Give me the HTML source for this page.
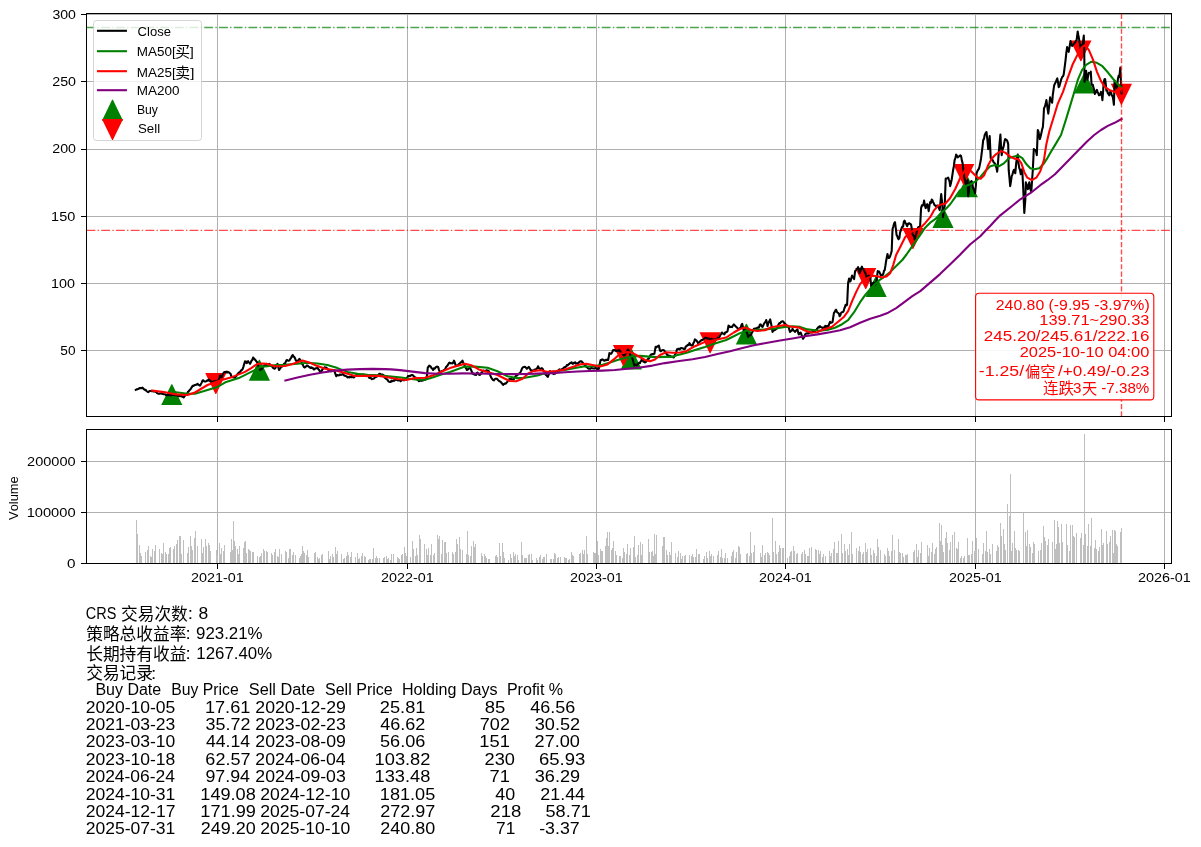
<!DOCTYPE html>
<html><head><meta charset="utf-8"><title>CRS</title>
<style>html,body{margin:0;padding:0;background:#fff}svg{display:block}text{font-family:"Liberation Sans","Noto Sans CJK SC",sans-serif;font-kerning:none;white-space:pre}</style>
</head><body>
<svg width="1201" height="847" viewBox="0 0 1201 847" style="will-change:transform">
<defs>
<clipPath id="cm"><rect x="86.5" y="13.5" width="1085.0" height="403.0"/></clipPath>
</defs>
<rect width="1201" height="847" fill="#fff"/>
<g stroke="#b0b0b0" stroke-width="1" shape-rendering="crispEdges">
<line x1="217.5" y1="13.5" x2="217.5" y2="416.5"/>
<line x1="217.5" y1="429.5" x2="217.5" y2="563.5"/>
<line x1="407.5" y1="13.5" x2="407.5" y2="416.5"/>
<line x1="407.5" y1="429.5" x2="407.5" y2="563.5"/>
<line x1="596.5" y1="13.5" x2="596.5" y2="416.5"/>
<line x1="596.5" y1="429.5" x2="596.5" y2="563.5"/>
<line x1="785.5" y1="13.5" x2="785.5" y2="416.5"/>
<line x1="785.5" y1="429.5" x2="785.5" y2="563.5"/>
<line x1="975.5" y1="13.5" x2="975.5" y2="416.5"/>
<line x1="975.5" y1="429.5" x2="975.5" y2="563.5"/>
<line x1="1164.5" y1="13.5" x2="1164.5" y2="416.5"/>
<line x1="1164.5" y1="429.5" x2="1164.5" y2="563.5"/>
<line x1="86.5" y1="14.5" x2="1171.5" y2="14.5"/>
<line x1="86.5" y1="81.5" x2="1171.5" y2="81.5"/>
<line x1="86.5" y1="149.5" x2="1171.5" y2="149.5"/>
<line x1="86.5" y1="216.5" x2="1171.5" y2="216.5"/>
<line x1="86.5" y1="283.5" x2="1171.5" y2="283.5"/>
<line x1="86.5" y1="350.5" x2="1171.5" y2="350.5"/>
<line x1="86.5" y1="512.5" x2="1171.5" y2="512.5"/>
<line x1="86.5" y1="461.5" x2="1171.5" y2="461.5"/>
</g>
<line x1="86.5" y1="27.5" x2="1171.5" y2="27.5" stroke="#008000" stroke-opacity="0.7" stroke-width="1.38889" stroke-dasharray="8.89,2.22,1.39,2.22"/>
<line x1="86.5" y1="230.4" x2="1171.5" y2="230.4" stroke="#ff0000" stroke-opacity="0.7" stroke-width="1.38889" stroke-dasharray="8.89,2.22,1.39,2.22"/>
<g clip-path="url(#cm)">
<path fill="#008000" d="M171.40,384.15 L172.20,384.15 L182.40,405.10 L161.20,405.10Z M259.00,359.75 L259.80,359.75 L270.00,380.70 L248.80,380.70Z M630.90,348.45 L631.70,348.45 L641.90,369.40 L620.70,369.40Z M746.00,323.65 L746.80,323.65 L757.00,344.60 L735.80,344.60Z M875.70,275.95 L876.50,275.95 L886.70,296.90 L865.50,296.90Z M942.60,207.15 L943.40,207.15 L953.60,228.10 L932.40,228.10Z M966.90,176.35 L967.70,176.35 L977.90,197.30 L956.70,197.30Z M1084.20,72.45 L1085.00,72.45 L1095.20,93.40 L1074.00,93.40Z"/>
<path fill="#ff0000" d="M215.40,394.05 L216.20,394.05 L226.40,373.10 L205.20,373.10Z M623.10,365.95 L623.90,365.95 L634.10,345.00 L612.90,345.00Z M709.70,353.25 L710.50,353.25 L720.70,332.30 L699.50,332.30Z M865.30,288.95 L866.10,288.95 L876.30,268.00 L855.10,268.00Z M912.50,249.05 L913.30,249.05 L923.50,228.10 L902.30,228.10Z M963.30,185.05 L964.10,185.05 L974.30,164.10 L953.10,164.10Z M1080.50,61.35 L1081.30,61.35 L1091.50,40.40 L1070.30,40.40Z M1121.00,104.65 L1121.80,104.65 L1132.00,83.70 L1110.80,83.70Z"/>
<g fill="none" stroke-width="2.08" stroke-linejoin="round" stroke-linecap="square">
<path stroke="#000" d="M135.8,389.8 L136.5,389.4 L137.2,389.4 L138.0,389.0 L138.8,388.8 L139.5,388.1 L140.2,388.0 L141.0,388.3 L141.8,388.0 L142.5,387.5 L143.3,388.6 L144.2,389.4 L145.0,390.0 L145.7,389.8 L146.4,391.0 L147.1,391.5 L147.8,392.0 L148.5,392.1 L149.3,391.0 L150.1,391.0 L150.9,391.0 L151.7,391.2 L152.5,391.0 L153.2,391.4 L154.0,391.2 L154.8,391.6 L155.5,391.9 L156.2,391.9 L157.1,393.1 L157.9,393.5 L158.8,393.8 L159.5,393.7 L160.2,393.5 L161.0,393.5 L161.8,393.6 L162.5,393.8 L163.2,394.2 L164.0,394.2 L164.8,394.3 L165.5,394.6 L166.2,395.2 L167.0,395.0 L167.8,395.2 L168.6,395.3 L169.4,394.6 L170.2,394.9 L170.9,395.5 L171.7,394.4 L172.5,395.0 L173.2,394.9 L174.0,394.8 L174.8,395.2 L175.5,395.2 L176.2,394.8 L177.0,395.5 L177.8,395.7 L178.5,395.9 L179.2,396.2 L180.0,395.6 L180.8,396.2 L181.5,395.9 L182.2,396.8 L183.0,396.9 L183.8,397.5 L184.6,396.1 L185.4,395.3 L186.2,395.0 L187.1,394.1 L187.9,391.9 L188.8,391.2 L189.6,390.0 L190.4,389.6 L191.2,388.1 L192.0,386.9 L192.8,385.7 L193.5,386.0 L194.2,385.2 L195.0,385.0 L195.8,384.8 L196.7,384.7 L197.5,383.8 L198.3,384.5 L199.2,385.2 L200.0,385.6 L200.8,384.4 L201.7,382.6 L202.5,380.6 L203.2,380.2 L204.0,381.2 L204.8,381.5 L205.5,381.5 L206.2,381.2 L207.0,380.5 L207.8,380.8 L208.6,379.6 L209.4,380.0 L210.3,381.1 L211.2,381.5 L212.0,381.9 L212.8,381.7 L213.5,381.3 L214.2,381.3 L215.0,381.4 L215.8,381.1 L216.5,381.4 L217.2,380.7 L218.0,380.5 L218.8,380.6 L219.4,378.2 L220.0,375.6 L220.6,376.3 L221.3,377.2 L221.9,376.9 L222.8,374.2 L223.8,372.5 L224.5,372.1 L225.3,371.9 L226.1,372.4 L226.9,371.6 L227.6,372.5 L228.4,372.1 L229.1,372.4 L229.9,373.4 L230.6,373.8 L231.2,375.9 L231.9,376.9 L232.7,377.2 L233.4,377.3 L234.2,377.6 L235.0,377.5 L235.8,376.6 L236.5,375.8 L237.2,374.6 L238.0,373.8 L238.8,372.5 L239.5,372.8 L240.2,371.7 L241.0,370.6 L241.8,369.9 L242.5,369.4 L243.3,367.1 L244.2,364.0 L245.0,361.2 L245.6,362.7 L246.3,361.6 L246.9,363.1 L247.5,362.0 L248.1,361.2 L248.7,362.2 L249.4,362.8 L250.0,363.8 L250.8,362.4 L251.6,360.5 L252.3,360.1 L253.1,357.5 L253.9,358.4 L254.7,359.3 L255.5,360.2 L256.2,361.2 L257.1,362.1 L257.9,364.8 L258.8,367.5 L259.4,368.3 L260.0,370.0 L260.8,369.6 L261.5,369.0 L262.2,368.6 L263.0,366.6 L263.8,366.2 L264.4,365.4 L265.0,365.0 L265.7,365.5 L266.4,363.8 L267.1,364.9 L267.9,364.1 L268.6,364.7 L269.3,363.9 L270.0,364.4 L270.8,365.7 L271.7,366.2 L272.5,366.9 L273.1,367.9 L273.8,368.3 L274.4,368.8 L275.2,368.2 L275.9,366.9 L276.7,365.1 L277.5,363.8 L278.2,366.8 L279.0,370.0 L279.8,369.0 L280.5,368.0 L281.2,366.9 L282.0,366.5 L282.8,366.0 L283.5,364.5 L284.2,363.5 L285.0,363.8 L285.6,362.1 L286.3,360.6 L286.9,360.0 L287.7,360.5 L288.6,360.8 L289.4,360.6 L290.2,359.1 L291.1,357.8 L291.9,355.9 L292.8,355.0 L293.5,356.8 L294.2,356.9 L295.0,358.1 L295.6,360.0 L296.3,360.8 L296.9,361.9 L297.7,361.2 L298.6,359.9 L299.4,358.8 L300.3,360.1 L301.2,361.2 L302.1,363.9 L302.9,364.8 L303.8,366.9 L304.5,367.4 L305.2,367.3 L306.0,366.4 L306.8,365.6 L307.5,365.6 L308.3,366.4 L309.2,367.0 L310.0,367.5 L310.8,368.0 L311.5,367.3 L312.2,368.1 L313.0,368.0 L313.8,369.4 L314.5,369.2 L315.2,368.4 L316.0,368.2 L316.8,368.2 L317.5,367.5 L318.3,369.2 L319.1,369.9 L319.8,371.3 L320.6,371.9 L321.2,372.0 L321.9,370.3 L322.5,369.4 L323.2,368.4 L324.0,367.9 L324.8,367.2 L325.5,368.0 L326.2,367.5 L327.1,368.4 L327.9,369.4 L328.8,370.6 L329.5,370.2 L330.2,370.4 L330.9,371.1 L331.6,370.5 L332.3,370.5 L333.0,370.6 L333.8,370.0 L334.6,371.6 L335.4,373.8 L336.2,376.2 L337.0,375.3 L337.8,375.1 L338.5,375.4 L339.2,375.2 L340.0,374.4 L340.8,374.9 L341.5,374.8 L342.2,374.3 L343.0,374.1 L343.8,375.0 L344.5,375.7 L345.2,375.8 L346.0,376.1 L346.8,376.5 L347.5,377.5 L348.3,377.2 L349.1,376.9 L349.8,377.4 L350.6,376.5 L351.4,377.3 L352.2,377.2 L353.0,376.6 L353.8,377.5 L354.5,376.9 L355.2,375.5 L356.0,375.3 L356.8,375.4 L357.5,375.0 L358.2,375.2 L359.0,375.4 L359.7,375.4 L360.4,375.3 L361.1,375.7 L361.9,375.5 L362.6,375.4 L363.3,374.3 L364.1,375.1 L364.8,375.6 L365.5,375.1 L366.2,375.0 L367.0,376.2 L367.8,375.5 L368.6,376.4 L369.4,377.9 L370.2,377.3 L370.9,378.1 L371.7,379.2 L372.5,378.8 L373.2,378.7 L374.0,378.5 L374.8,377.4 L375.5,377.2 L376.2,376.9 L377.0,376.6 L377.8,375.8 L378.5,375.0 L379.2,373.9 L380.0,373.8 L380.8,374.4 L381.5,374.6 L382.2,374.6 L383.0,374.8 L383.8,375.6 L384.6,377.5 L385.4,378.2 L386.2,378.8 L387.0,379.3 L387.8,380.2 L388.5,381.4 L389.2,381.7 L390.0,381.9 L390.7,381.9 L391.4,380.7 L392.1,381.3 L392.9,381.0 L393.6,380.3 L394.3,380.7 L395.0,380.0 L395.8,379.8 L396.6,379.8 L397.3,380.2 L398.1,380.4 L398.9,380.2 L399.7,380.0 L400.5,381.2 L401.2,380.6 L402.0,380.1 L402.8,379.5 L403.5,380.3 L404.2,380.2 L405.0,379.4 L405.8,379.4 L406.5,378.0 L407.2,377.6 L408.0,376.0 L408.8,376.2 L409.5,375.8 L410.2,375.9 L411.0,375.2 L411.8,375.1 L412.5,375.0 L413.3,375.8 L414.1,376.6 L414.8,377.1 L415.6,377.5 L416.4,378.7 L417.2,379.5 L418.0,380.0 L418.8,381.2 L419.5,381.0 L420.3,380.8 L421.1,380.8 L421.9,380.6 L422.7,380.5 L423.4,380.3 L424.2,379.6 L425.0,380.0 L425.6,379.2 L426.3,377.8 L426.9,376.2 L427.8,367.5 L428.5,366.7 L429.2,365.7 L430.0,366.2 L430.8,366.7 L431.6,368.3 L432.3,368.6 L433.1,370.0 L433.9,368.3 L434.8,368.7 L435.6,367.5 L436.4,366.7 L437.3,366.6 L438.1,366.9 L438.9,369.6 L439.8,371.9 L440.6,372.2 L441.4,371.7 L442.1,370.9 L442.9,370.7 L443.8,370.0 L444.5,369.8 L445.3,368.8 L446.1,367.0 L446.9,366.2 L447.7,365.3 L448.6,363.7 L449.4,362.5 L450.2,363.1 L451.1,363.4 L451.9,363.1 L452.6,363.4 L453.3,362.4 L454.0,360.6 L454.8,362.4 L455.5,365.1 L456.2,365.6 L457.0,365.6 L457.8,365.3 L458.6,364.4 L459.4,363.8 L460.2,362.9 L460.9,362.3 L461.7,361.9 L462.5,360.6 L463.1,362.3 L463.8,364.0 L464.4,365.0 L465.2,366.9 L466.1,368.4 L466.9,370.0 L467.7,369.8 L468.4,368.7 L469.2,368.2 L470.0,368.1 L470.8,369.3 L471.7,371.4 L472.5,373.8 L473.2,373.4 L474.0,374.3 L474.8,374.7 L475.5,374.8 L476.2,375.0 L476.9,373.1 L477.5,372.5 L478.3,373.7 L479.2,374.8 L480.0,375.0 L480.8,373.9 L481.6,372.3 L482.3,372.2 L483.1,371.2 L483.8,370.6 L484.5,371.0 L485.2,371.4 L485.9,370.6 L486.6,370.2 L487.3,370.4 L488.0,370.7 L488.8,371.2 L489.7,373.5 L490.6,376.2 L491.4,377.8 L492.3,379.1 L493.1,380.0 L493.9,380.4 L494.7,379.1 L495.5,378.8 L496.2,378.8 L497.0,378.8 L497.8,379.7 L498.6,380.5 L499.4,381.2 L500.1,381.4 L500.9,382.0 L501.6,383.1 L502.4,383.9 L503.1,384.8 L503.9,384.2 L504.7,383.6 L505.5,383.7 L506.2,383.1 L507.1,382.1 L507.9,380.8 L508.8,380.0 L509.5,378.8 L510.2,379.0 L510.9,379.5 L511.6,379.0 L512.3,379.4 L513.0,379.5 L513.8,379.4 L514.6,377.8 L515.4,376.6 L516.2,375.6 L517.0,375.4 L517.8,374.7 L518.5,373.8 L519.2,373.4 L520.0,373.1 L520.6,371.9 L521.3,370.4 L521.9,368.8 L522.7,367.5 L523.6,367.1 L524.4,366.9 L525.2,366.9 L526.1,367.9 L526.9,368.8 L527.8,367.8 L528.8,366.9 L529.7,368.3 L530.6,370.0 L531.3,370.3 L532.1,370.7 L532.8,370.5 L533.5,371.0 L534.3,369.7 L535.0,370.6 L535.8,369.4 L536.5,368.6 L537.3,368.4 L538.1,366.2 L538.7,367.8 L539.4,368.5 L540.0,368.8 L540.6,369.0 L541.3,368.4 L541.9,368.1 L542.7,369.0 L543.5,371.0 L544.2,371.5 L545.0,373.1 L545.7,374.9 L546.4,375.2 L547.1,376.0 L547.8,376.9 L548.5,375.2 L549.2,372.9 L550.0,371.2 L550.7,371.9 L551.4,372.4 L552.1,372.1 L552.9,373.4 L553.6,374.0 L554.3,373.7 L555.0,373.8 L555.8,372.9 L556.5,372.8 L557.2,371.4 L558.0,371.0 L558.8,370.0 L559.5,369.4 L560.2,369.7 L561.0,369.9 L561.8,369.2 L562.5,368.8 L563.2,368.4 L564.0,367.6 L564.7,367.0 L565.4,367.0 L566.2,366.4 L566.9,365.0 L567.7,365.5 L568.5,364.4 L569.2,364.0 L570.0,363.1 L570.7,363.0 L571.5,362.3 L572.2,363.6 L572.9,363.9 L573.7,362.8 L574.4,363.1 L575.2,362.3 L576.0,363.6 L576.7,363.4 L577.5,363.8 L578.3,363.0 L579.0,362.4 L579.8,361.4 L580.6,361.2 L581.4,361.2 L582.3,362.2 L583.1,363.1 L583.9,364.3 L584.7,365.0 L585.5,365.5 L586.2,366.9 L587.0,367.0 L587.8,368.2 L588.5,368.6 L589.2,368.5 L590.0,368.8 L590.7,368.3 L591.4,368.0 L592.1,368.1 L592.9,368.4 L593.6,368.5 L594.3,368.5 L595.0,368.1 L595.8,368.3 L596.5,368.4 L597.2,369.7 L598.0,368.2 L598.8,368.8 L599.7,364.3 L600.6,360.0 L601.2,360.0 L601.9,359.6 L602.5,359.4 L603.3,359.9 L604.2,360.6 L605.0,360.6 L605.8,359.8 L606.5,360.1 L607.3,359.6 L608.1,360.0 L608.8,356.6 L609.4,353.1 L610.3,353.6 L611.2,353.8 L612.2,352.2 L613.1,350.0 L613.9,350.4 L614.7,350.0 L615.5,350.7 L616.2,351.2 L617.0,350.7 L617.8,350.5 L618.6,350.6 L619.4,350.0 L620.2,351.2 L621.1,353.0 L621.9,353.1 L622.8,354.4 L623.8,355.6 L624.6,355.3 L625.4,353.9 L626.2,352.5 L627.2,350.8 L628.1,349.4 L628.7,351.0 L629.4,351.9 L630.0,354.4 L630.8,356.4 L631.7,356.7 L632.5,358.8 L633.1,361.0 L633.8,363.5 L634.4,365.6 L635.2,364.7 L636.0,364.7 L636.7,365.2 L637.5,364.4 L638.3,363.5 L639.2,362.8 L640.0,363.1 L640.6,361.5 L641.3,360.9 L641.9,358.8 L642.7,360.0 L643.5,361.7 L644.2,361.7 L645.0,362.5 L645.8,361.9 L646.5,361.3 L647.2,359.9 L648.0,358.9 L648.8,358.8 L649.7,357.0 L650.6,355.0 L651.4,354.5 L652.1,354.1 L652.9,354.3 L653.6,354.0 L654.4,353.8 L655.0,350.1 L655.6,346.9 L656.4,347.4 L657.2,346.4 L658.0,346.4 L658.8,345.6 L659.4,348.1 L660.0,350.6 L660.8,351.3 L661.5,350.4 L662.3,350.2 L663.1,350.0 L663.9,350.2 L664.8,351.4 L665.6,352.5 L666.2,353.6 L666.9,354.1 L667.5,355.6 L668.3,355.4 L669.0,355.9 L669.8,355.8 L670.6,356.2 L671.4,356.5 L672.2,356.6 L673.0,357.3 L673.8,357.5 L674.6,355.3 L675.4,354.0 L676.2,352.5 L676.9,349.4 L677.6,349.3 L678.4,348.7 L679.1,348.8 L679.8,349.3 L680.5,348.3 L681.2,348.1 L682.0,348.3 L682.8,348.4 L683.5,348.6 L684.2,349.1 L685.0,348.8 L685.8,346.4 L686.7,346.1 L687.5,345.0 L688.1,344.8 L688.8,345.1 L689.4,343.1 L690.2,344.3 L691.1,345.3 L691.9,345.6 L692.6,345.4 L693.4,343.1 L694.1,342.0 L694.9,339.4 L695.6,340.0 L696.4,340.4 L697.2,341.6 L698.0,343.1 L698.8,342.5 L699.5,342.0 L700.2,341.3 L701.0,340.5 L701.8,340.0 L702.5,340.0 L703.3,339.4 L704.0,338.8 L704.8,338.1 L705.6,337.5 L706.4,338.1 L707.1,338.1 L707.9,338.6 L708.6,338.5 L709.4,338.8 L710.1,339.4 L710.9,339.4 L711.6,338.7 L712.3,339.6 L713.0,339.6 L713.8,339.4 L714.5,339.8 L715.2,339.4 L715.9,339.4 L716.6,339.0 L717.3,338.5 L718.0,337.5 L718.8,338.1 L719.5,336.8 L720.3,335.2 L721.1,334.0 L721.9,332.5 L722.7,333.5 L723.6,333.7 L724.4,334.4 L725.2,332.5 L726.0,332.2 L726.7,332.2 L727.5,331.2 L728.5,325.6 L729.2,325.9 L729.9,327.1 L730.6,326.7 L731.2,326.9 L732.1,327.1 L732.9,325.6 L733.8,324.4 L734.5,325.1 L735.3,326.0 L736.1,326.7 L736.9,327.5 L737.7,328.4 L738.5,329.6 L739.2,328.6 L740.0,328.8 L740.8,327.3 L741.5,324.9 L742.2,323.8 L743.0,327.5 L743.8,330.6 L744.6,331.1 L745.4,330.3 L746.2,331.2 L747.2,333.3 L748.1,336.9 L748.9,335.8 L749.7,335.3 L750.5,335.3 L751.2,334.4 L752.1,332.4 L752.9,330.9 L753.8,328.8 L754.5,328.8 L755.2,328.5 L756.0,328.7 L756.8,328.1 L757.5,327.5 L758.3,327.8 L759.0,327.5 L759.8,324.7 L760.6,324.4 L761.2,325.4 L761.9,326.6 L762.5,326.9 L763.2,325.6 L764.0,323.6 L764.8,322.6 L765.5,321.9 L766.2,320.0 L766.9,322.4 L767.5,326.2 L768.2,323.4 L768.9,322.3 L769.6,320.7 L770.2,319.4 L771.0,323.2 L771.8,327.1 L772.5,331.9 L773.2,331.1 L774.0,330.2 L774.8,329.9 L775.5,329.7 L776.2,328.8 L777.0,328.5 L777.8,325.9 L778.6,324.3 L779.4,323.1 L780.2,323.2 L781.0,322.0 L781.7,321.6 L782.5,321.2 L783.3,321.4 L784.0,322.8 L784.8,323.6 L785.6,324.4 L786.4,325.0 L787.2,326.5 L788.0,325.9 L788.8,327.5 L789.4,329.9 L790.0,331.9 L790.8,331.2 L791.7,330.6 L792.5,328.8 L793.3,330.3 L794.2,330.8 L795.0,331.9 L795.8,330.8 L796.7,330.1 L797.5,329.4 L798.1,332.4 L798.8,334.4 L799.7,332.9 L800.6,332.5 L801.4,334.5 L802.3,337.1 L803.1,338.8 L803.9,337.5 L804.8,335.5 L805.6,333.8 L806.4,333.6 L807.2,333.2 L808.0,333.6 L808.8,333.1 L809.5,332.8 L810.3,332.3 L811.1,332.2 L811.9,332.4 L812.7,332.2 L813.4,331.2 L814.2,331.5 L815.0,331.2 L815.8,329.9 L816.5,329.7 L817.2,328.6 L818.0,327.6 L818.8,326.9 L819.4,327.4 L820.0,326.2 L820.8,327.1 L821.7,327.2 L822.5,328.2 L823.2,327.7 L824.0,327.7 L824.8,326.3 L825.5,325.8 L826.3,327.5 L827.2,325.9 L828.0,327.2 L828.7,325.5 L829.3,323.6 L830.0,321.8 L830.8,322.9 L831.7,322.5 L832.5,322.2 L833.2,317.7 L834.0,312.7 L834.7,312.0 L835.4,310.5 L836.1,309.7 L836.8,311.7 L837.5,312.6 L838.2,312.9 L838.9,313.7 L839.6,316.2 L840.3,315.4 L840.9,313.3 L841.6,312.2 L842.3,312.3 L842.9,312.0 L843.6,311.2 L844.3,308.5 L844.9,307.2 L845.6,304.7 L846.4,305.4 L847.1,304.7 L848.1,283.1 L849.1,278.6 L849.9,281.5 L850.6,281.1 L851.4,278.1 L852.1,275.6 L852.8,277.3 L853.4,277.8 L854.1,279.1 L855.1,271.1 L855.9,270.4 L856.6,269.6 L857.4,268.3 L858.1,267.1 L858.9,268.9 L859.6,273.1 L860.4,271.2 L861.1,268.5 L861.9,266.6 L862.6,268.6 L863.4,268.9 L864.1,270.6 L864.9,272.4 L865.7,273.6 L866.7,278.6 L867.4,276.3 L868.0,276.9 L868.7,275.6 L869.5,276.2 L870.2,276.6 L871.2,286.1 L872.0,284.7 L872.9,283.1 L873.7,282.6 L874.5,283.0 L875.2,284.6 L876.2,283.1 L877.0,277.2 L877.7,271.1 L878.5,271.5 L879.2,271.6 L880.0,273.4 L880.7,275.1 L881.4,275.5 L882.0,274.8 L882.7,275.1 L883.4,273.5 L884.0,270.7 L884.7,270.1 L885.4,265.9 L886.0,261.7 L886.7,258.0 L887.5,254.0 L888.1,256.7 L888.7,258.0 L889.5,257.7 L890.2,256.0 L891.0,253.5 L891.7,251.0 L892.5,229.2 L893.3,226.6 L894.2,223.2 L895.0,222.2 L895.8,228.4 L896.6,235.2 L897.3,236.2 L897.9,238.1 L898.6,239.2 L899.4,237.9 L900.1,232.4 L900.9,230.3 L901.6,228.2 L902.4,226.5 L903.1,226.5 L903.9,221.4 L904.6,220.7 L905.4,222.8 L906.3,224.2 L907.1,226.2 L907.8,223.7 L908.4,224.3 L909.1,223.2 L909.8,223.8 L910.4,223.8 L911.1,224.7 L911.9,229.2 L912.6,234.2 L913.3,235.5 L913.9,235.8 L914.6,239.2 L915.3,236.8 L915.9,235.0 L916.6,232.2 L917.4,229.5 L918.1,227.2 L918.8,227.1 L919.4,227.5 L920.1,226.2 L921.1,208.1 L921.9,205.3 L922.6,205.6 L923.4,204.4 L924.1,200.6 L924.9,205.4 L925.7,208.1 L926.5,205.5 L927.2,204.1 L928.0,207.0 L928.7,211.1 L929.5,205.3 L930.2,202.1 L931.0,202.9 L931.7,199.6 L932.4,200.2 L933.0,201.9 L933.7,203.1 L934.4,204.9 L935.0,205.3 L935.7,206.1 L936.4,206.7 L937.0,205.6 L937.7,205.6 L938.4,207.1 L939.0,208.4 L939.7,210.1 L940.5,201.6 L941.2,194.1 L942.2,203.1 L943.0,217.2 L943.9,210.4 L944.7,206.1 L945.7,178.5 L946.5,178.6 L947.4,178.1 L948.2,177.5 L948.9,179.6 L949.5,181.2 L950.2,186.1 L951.0,182.9 L951.7,179.5 L952.4,174.9 L953.1,170.2 L953.9,165.9 L954.6,160.1 L955.4,158.1 L956.1,154.6 L956.9,155.7 L957.8,157.3 L958.6,156.6 L959.4,156.1 L960.3,155.4 L961.1,156.1 L961.9,160.6 L962.6,163.1 L963.4,170.3 L964.1,176.2 L964.8,180.1 L965.4,182.7 L966.1,184.2 L966.9,181.6 L967.6,180.2 L968.1,196.3 L968.9,191.5 L969.6,184.2 L970.3,182.7 L970.9,181.7 L971.6,181.2 L972.3,182.9 L972.9,187.5 L973.6,189.2 L974.4,191.1 L975.1,193.2 L975.9,184.8 L976.6,173.2 L977.4,171.2 L978.1,169.7 L978.8,169.0 L979.5,166.4 L980.2,163.1 L981.0,158.7 L981.7,153.1 L982.5,146.7 L983.2,140.1 L984.0,138.9 L984.7,135.0 L985.6,133.1 L986.5,132.0 L987.4,140.0 L988.2,149.1 L989.0,143.2 L989.7,136.1 L990.7,158.1 L991.4,159.5 L992.0,158.3 L992.7,160.1 L993.5,162.0 L994.4,162.9 L995.2,164.1 L995.9,166.3 L996.5,168.1 L997.2,171.7 L998.0,162.7 L998.7,153.1 L999.5,144.1 L1000.4,134.5 L1001.0,145.9 L1001.7,155.1 L1002.4,150.4 L1003.0,148.3 L1003.7,146.1 L1004.5,141.3 L1005.2,139.1 L1006.0,139.6 L1006.7,140.1 L1007.5,141.6 L1008.2,144.1 L1008.7,170.2 L1009.5,178.4 L1010.2,186.2 L1011.0,181.2 L1011.7,176.2 L1012.5,174.3 L1013.3,171.2 L1014.0,169.8 L1014.6,171.8 L1015.3,173.2 L1016.3,162.1 L1017.0,157.9 L1017.8,154.6 L1018.5,163.3 L1019.3,168.2 L1020.0,170.1 L1020.8,174.2 L1021.5,169.6 L1022.3,170.2 L1023.3,190.2 L1024.3,213.0 L1025.3,200.0 L1025.8,182.2 L1026.5,184.4 L1027.1,186.2 L1027.8,189.2 L1028.5,185.8 L1029.3,182.2 L1030.0,187.4 L1030.6,190.1 L1031.3,191.7 L1032.0,181.3 L1032.8,170.2 L1033.8,149.1 L1034.5,149.8 L1035.1,150.3 L1035.8,150.1 L1036.8,155.1 L1037.8,130.0 L1038.5,131.6 L1039.1,135.1 L1039.8,139.1 L1040.6,136.6 L1041.4,133.0 L1042.2,129.1 L1042.9,127.0 L1043.5,118.0 L1044.0,108.2 L1044.8,106.8 L1045.6,104.1 L1046.4,100.1 L1047.0,104.3 L1047.7,109.6 L1048.3,113.7 L1049.2,106.0 L1050.1,97.4 L1050.8,100.4 L1051.4,99.9 L1052.1,102.8 L1052.8,94.9 L1053.5,89.8 L1054.2,85.2 L1055.0,83.5 L1055.8,82.1 L1056.5,80.2 L1057.3,78.4 L1058.0,82.1 L1058.7,87.2 L1059.4,86.1 L1060.2,83.3 L1060.9,80.4 L1061.6,78.4 L1062.3,76.9 L1063.0,76.3 L1063.7,74.3 L1064.6,67.7 L1065.5,60.7 L1066.3,53.0 L1067.1,47.1 L1067.9,50.0 L1068.7,51.9 L1069.6,46.6 L1070.5,41.0 L1071.3,44.5 L1072.2,45.8 L1073.0,44.6 L1073.7,44.2 L1074.5,43.1 L1075.2,42.4 L1075.9,40.7 L1076.6,40.4 L1077.7,31.5 L1078.5,36.3 L1079.3,40.4 L1080.0,44.7 L1080.7,48.5 L1081.4,45.2 L1082.0,45.2 L1082.7,44.4 L1083.8,35.6 L1084.3,53.9 L1084.5,81.8 L1085.3,76.7 L1086.1,70.9 L1086.8,76.1 L1087.4,79.7 L1088.1,76.3 L1088.8,72.9 L1089.5,73.2 L1090.1,73.3 L1090.8,71.6 L1091.5,83.8 L1092.2,85.1 L1092.8,84.8 L1093.5,87.9 L1094.2,89.8 L1094.9,94.0 L1095.6,92.8 L1096.2,91.7 L1096.9,89.9 L1097.6,91.8 L1098.3,93.4 L1099.0,95.3 L1099.7,95.0 L1100.3,94.3 L1101.0,91.9 L1101.7,94.3 L1102.4,100.1 L1103.1,91.7 L1103.7,82.4 L1104.4,79.4 L1105.1,79.0 L1105.8,84.5 L1106.4,90.6 L1107.1,90.6 L1107.8,93.2 L1108.5,94.0 L1109.2,95.4 L1109.8,92.4 L1110.5,91.9 L1111.2,93.3 L1111.9,95.6 L1112.6,96.0 L1113.2,99.3 L1113.9,104.8 L1114.6,81.1 L1115.3,84.3 L1115.9,85.4 L1116.6,87.9 L1117.3,84.1 L1118.0,78.4 L1118.7,75.6 L1119.3,77.0 L1120.3,67.5 L1120.9,80.5 L1121.6,93.3"/>
<path stroke="#008000" d="M176.0,392.2 L187.5,393.8 L195.0,393.8 L207.5,390.0 L217.5,386.9 L226.2,381.9 L238.8,378.1 L251.2,371.9 L257.5,368.8 L260.0,366.9 L267.5,366.2 L276.2,365.0 L285.0,364.8 L297.5,363.8 L307.5,362.8 L317.5,363.5 L327.5,365.0 L337.5,368.1 L347.5,371.9 L357.5,373.8 L367.5,374.8 L378.8,375.4 L391.2,376.5 L401.2,377.5 L407.5,378.5 L417.5,379.8 L425.0,379.8 L432.5,377.5 L441.2,374.4 L450.0,371.9 L458.8,368.8 L465.0,366.5 L475.0,366.6 L487.5,367.8 L497.5,371.2 L507.5,376.2 L516.2,378.1 L525.0,377.8 L537.5,375.6 L540.0,374.8 L547.5,372.5 L556.2,371.2 L565.0,370.0 L575.0,368.1 L583.8,366.5 L593.8,366.2 L602.5,364.8 L610.0,362.5 L617.5,360.0 L625.0,358.1 L632.5,356.2 L640.0,355.9 L648.8,356.6 L656.2,357.1 L665.0,356.9 L672.5,356.9 L677.5,355.0 L680.0,354.4 L687.5,352.5 L695.0,350.0 L705.0,346.9 L715.0,343.5 L726.2,340.0 L733.8,336.2 L740.0,333.1 L746.2,330.6 L755.0,330.0 L765.0,329.4 L775.0,328.5 L785.0,326.9 L792.5,326.2 L800.0,326.9 L807.5,329.4 L815.0,330.2 L820.0,330.8 L828.0,329.8 L835.0,327.8 L842.1,324.2 L848.1,320.2 L854.1,312.2 L860.1,302.2 L865.1,295.1 L870.2,289.1 L875.2,284.1 L880.2,279.6 L885.2,276.1 L890.2,272.1 L896.2,266.1 L902.3,260.0 L906.5,254.5 L910.1,249.3 L915.1,242.2 L920.1,235.2 L925.1,227.7 L930.2,222.7 L935.2,219.2 L940.2,214.1 L945.2,209.6 L950.4,204.0 L955.1,197.3 L960.1,190.2 L965.1,186.2 L970.1,184.2 L975.1,181.7 L980.2,177.2 L985.2,171.2 L990.2,166.2 L995.2,165.1 L999.2,166.2 L1004.2,163.1 L1009.2,158.1 L1014.3,156.6 L1018.3,155.6 L1022.3,158.1 L1026.3,164.1 L1030.3,168.2 L1034.3,169.2 L1039.3,168.2 L1043.4,164.1 L1047.4,158.1 L1051.4,151.1 L1055.0,145.1 L1061.0,135.0 L1065.7,120.4 L1069.8,106.9 L1073.9,93.3 L1077.9,79.7 L1082.0,70.2 L1086.1,64.8 L1091.5,61.7 L1096.9,62.8 L1102.4,66.2 L1107.8,72.3 L1113.2,79.0 L1118.7,85.2 L1121.6,87.7"/>
<path stroke="#ff0000" d="M152.2,390.5 L163.8,392.1 L176.2,394.4 L187.5,395.0 L195.0,392.5 L207.5,385.0 L220.0,380.6 L232.5,376.9 L245.0,371.9 L251.2,368.1 L257.5,363.8 L263.8,363.5 L267.5,364.0 L275.0,366.2 L285.0,366.0 L292.5,364.0 L302.5,360.6 L310.0,362.8 L316.2,365.6 L325.0,368.8 L335.0,370.2 L345.0,373.1 L355.0,376.0 L367.5,375.8 L378.8,375.9 L387.5,377.2 L397.5,379.0 L406.2,380.0 L415.0,378.1 L425.0,377.8 L432.5,375.6 L442.5,371.2 L450.0,368.1 L458.8,365.6 L465.0,363.8 L471.2,365.2 L478.8,369.4 L487.5,371.9 L497.5,375.0 L505.0,378.8 L510.0,381.0 L516.2,381.2 L522.5,378.8 L528.8,373.1 L533.8,370.9 L541.2,370.2 L547.5,371.9 L556.2,371.0 L565.0,369.4 L572.5,366.9 L580.0,364.4 L586.2,363.8 L593.8,365.2 L600.0,366.5 L607.5,364.4 L613.8,359.4 L620.0,353.8 L627.5,351.9 L632.5,352.8 L638.8,356.5 L645.0,360.0 L650.0,361.2 L655.0,359.4 L660.0,355.0 L666.2,352.2 L672.5,352.8 L680.0,352.5 L686.2,351.2 L695.0,346.2 L705.0,341.9 L715.0,340.0 L726.2,337.5 L733.8,332.5 L740.0,329.0 L745.0,327.5 L751.2,330.0 L757.5,331.0 L765.0,330.2 L771.2,327.2 L778.8,326.0 L785.0,325.0 L790.0,326.5 L798.8,327.5 L805.0,330.6 L811.2,332.5 L817.5,332.2 L820.0,330.8 L826.0,328.8 L832.0,326.8 L838.1,321.7 L844.1,316.7 L848.1,311.2 L852.1,301.2 L856.1,292.1 L860.1,284.1 L863.1,281.1 L867.2,278.1 L872.2,275.6 L877.2,276.3 L882.2,277.6 L886.2,276.6 L890.2,273.1 L893.2,265.1 L896.1,255.0 L900.1,247.3 L905.1,237.2 L910.1,232.2 L915.1,230.2 L920.1,228.2 L925.1,223.2 L930.2,217.2 L934.2,210.1 L938.2,205.6 L942.2,204.1 L945.2,203.8 L950.0,198.3 L955.1,189.2 L960.1,178.2 L965.1,170.2 L969.6,169.7 L973.1,173.2 L977.1,177.2 L980.7,178.7 L984.2,175.2 L988.2,165.1 L992.2,158.1 L996.2,154.1 L1001.2,151.1 L1005.2,152.6 L1010.2,156.6 L1014.3,158.6 L1018.3,159.1 L1021.3,163.1 L1024.3,172.2 L1027.3,177.7 L1031.8,180.2 L1036.3,177.7 L1040.3,171.2 L1043.9,160.1 L1046.4,144.0 L1049.4,131.0 L1052.2,122.0 L1057.6,104.2 L1063.0,91.9 L1067.1,79.7 L1072.5,64.8 L1077.9,53.9 L1082.0,47.1 L1084.7,45.1 L1088.8,49.9 L1092.9,59.4 L1096.9,71.6 L1101.0,81.1 L1105.1,87.2 L1109.2,89.9 L1114.6,91.9 L1118.7,90.6 L1121.6,88.3"/>
<path stroke="#800080" d="M285.4,380.4 L297.5,377.5 L310.0,374.8 L322.5,372.5 L335.0,370.6 L347.5,369.6 L360.0,369.1 L372.5,368.9 L385.0,369.1 L391.2,369.4 L400.0,370.1 L412.5,371.6 L425.0,373.1 L437.5,373.8 L450.0,373.8 L462.5,373.4 L475.0,373.5 L487.5,373.8 L500.0,374.0 L512.5,374.1 L525.0,374.0 L537.5,373.6 L552.5,373.1 L565.0,372.2 L577.5,371.5 L590.0,371.0 L602.5,370.6 L615.0,370.0 L627.5,368.8 L640.0,367.5 L652.5,365.6 L665.0,363.1 L677.5,361.2 L692.5,359.2 L705.0,356.9 L717.5,354.0 L730.0,351.2 L742.5,348.1 L755.0,345.0 L767.5,342.8 L780.0,340.6 L792.5,338.5 L805.0,336.2 L817.5,334.4 L830.0,332.3 L840.1,330.3 L850.1,327.2 L860.1,322.7 L870.2,318.7 L880.2,315.7 L888.2,312.7 L896.2,308.2 L904.3,302.2 L912.3,296.2 L920.3,291.1 L928.4,284.1 L935.4,278.1 L940.0,274.1 L950.0,264.5 L959.8,255.0 L965.3,249.3 L970.3,244.2 L975.3,240.2 L980.3,236.2 L985.4,230.7 L990.4,225.7 L995.4,220.2 L1000.0,215.6 L1013.3,205.0 L1020.3,199.3 L1030.3,193.2 L1040.3,185.2 L1047.4,180.2 L1055.0,174.2 L1065.0,164.0 L1075.0,153.8 L1087.0,141.5 L1094.2,135.0 L1101.0,130.0 L1107.8,125.9 L1114.6,122.8 L1121.6,119.0"/>
</g>
<line x1="1121.5" y1="416.5" x2="1121.5" y2="13.5" stroke="#ff0000" stroke-opacity="0.7" stroke-width="1.38889" stroke-dasharray="5.14,2.22"/>
</g>
<g fill="#bfbfbf" shape-rendering="crispEdges">
<path d="M136,520h1V563h-1ZM137,534h1V563h-1ZM139,545h1V563h-1ZM140,553h1V563h-1ZM141,556h1V563h-1ZM145,552h1V563h-1ZM147,550h1V563h-1ZM148,546h1V563h-1ZM150,556h1V563h-1ZM151,557h1V563h-1ZM152,549h1V563h-1ZM154,551h1V563h-1ZM155,545h1V563h-1ZM159,549h1V563h-1ZM161,553h1V563h-1ZM162,554h1V563h-1ZM163,543h1V563h-1ZM165,552h1V563h-1ZM166,554h1V563h-1ZM168,554h1V563h-1ZM169,548h1V563h-1ZM170,547h1V563h-1ZM173,549h1V563h-1ZM174,546h1V563h-1ZM176,544h1V563h-1ZM177,540h1V563h-1ZM179,536h1V563h-1ZM180,536h1V563h-1ZM181,554h1V563h-1ZM183,540h1V563h-1ZM187,553h1V563h-1ZM188,547h1V563h-1ZM190,536h1V563h-1ZM191,546h1V563h-1ZM192,550h1V563h-1ZM194,538h1V563h-1ZM195,531h1V563h-1ZM197,546h1V563h-1ZM201,539h1V563h-1ZM202,553h1V563h-1ZM203,547h1V563h-1ZM205,539h1V563h-1ZM206,546h1V563h-1ZM208,543h1V563h-1ZM209,545h1V563h-1ZM210,551h1V563h-1ZM216,550h1V563h-1ZM217,555h1V563h-1ZM219,543h1V563h-1ZM220,554h1V563h-1ZM221,548h1V563h-1ZM223,551h1V563h-1ZM224,545h1V563h-1ZM230,552h1V563h-1ZM231,539h1V563h-1ZM232,550h1V563h-1ZM233,521h1V563h-1ZM234,541h1V563h-1ZM235,546h1V563h-1ZM237,549h1V563h-1ZM238,554h1V563h-1ZM239,546h1V563h-1ZM243,548h1V563h-1ZM244,542h1V563h-1ZM245,541h1V563h-1ZM246,553h1V563h-1ZM248,549h1V563h-1ZM249,550h1V563h-1ZM250,551h1V563h-1ZM252,552h1V563h-1ZM253,552h1V563h-1ZM257,556h1V563h-1ZM259,557h1V563h-1ZM260,556h1V563h-1ZM261,553h1V563h-1ZM263,549h1V563h-1ZM264,551h1V563h-1ZM266,551h1V563h-1ZM267,552h1V563h-1ZM271,553h1V563h-1ZM272,555h1V563h-1ZM274,552h1V563h-1ZM275,549h1V563h-1ZM277,556h1V563h-1ZM278,557h1V563h-1ZM279,549h1V563h-1ZM281,554h1V563h-1ZM285,551h1V563h-1ZM286,552h1V563h-1ZM288,558h1V563h-1ZM289,549h1V563h-1ZM290,549h1V563h-1ZM292,555h1V563h-1ZM293,552h1V563h-1ZM295,555h1V563h-1ZM299,558h1V563h-1ZM300,556h1V563h-1ZM301,554h1V563h-1ZM302,546h1V563h-1ZM303,551h1V563h-1ZM304,553h1V563h-1ZM306,555h1V563h-1ZM307,550h1V563h-1ZM308,557h1V563h-1ZM314,553h1V563h-1ZM315,552h1V563h-1ZM317,557h1V563h-1ZM318,559h1V563h-1ZM319,558h1V563h-1ZM321,555h1V563h-1ZM322,554h1V563h-1ZM328,551h1V563h-1ZM329,559h1V563h-1ZM330,556h1V563h-1ZM332,554h1V563h-1ZM333,557h1V563h-1ZM335,547h1V563h-1ZM336,554h1V563h-1ZM337,551h1V563h-1ZM341,554h1V563h-1ZM343,559h1V563h-1ZM344,558h1V563h-1ZM346,556h1V563h-1ZM347,552h1V563h-1ZM348,555h1V563h-1ZM350,557h1V563h-1ZM351,552h1V563h-1ZM355,557h1V563h-1ZM357,553h1V563h-1ZM358,559h1V563h-1ZM359,558h1V563h-1ZM361,556h1V563h-1ZM362,553h1V563h-1ZM364,556h1V563h-1ZM365,557h1V563h-1ZM368,560h1V563h-1ZM369,559h1V563h-1ZM370,559h1V563h-1ZM372,559h1V563h-1ZM373,548h1V563h-1ZM375,558h1V563h-1ZM376,556h1V563h-1ZM377,558h1V563h-1ZM379,558h1V563h-1ZM383,558h1V563h-1ZM384,557h1V563h-1ZM386,556h1V563h-1ZM387,559h1V563h-1ZM388,558h1V563h-1ZM390,560h1V563h-1ZM391,554h1V563h-1ZM393,554h1V563h-1ZM397,557h1V563h-1ZM398,558h1V563h-1ZM399,559h1V563h-1ZM401,555h1V563h-1ZM402,554h1V563h-1ZM404,547h1V563h-1ZM405,553h1V563h-1ZM406,556h1V563h-1ZM410,557h1V563h-1ZM412,541h1V563h-1ZM413,549h1V563h-1ZM415,556h1V563h-1ZM416,548h1V563h-1ZM417,555h1V563h-1ZM419,535h1V563h-1ZM420,539h1V563h-1ZM424,544h1V563h-1ZM426,549h1V563h-1ZM427,555h1V563h-1ZM428,548h1V563h-1ZM430,555h1V563h-1ZM431,544h1V563h-1ZM433,555h1V563h-1ZM434,553h1V563h-1ZM437,535h1V563h-1ZM438,539h1V563h-1ZM439,536h1V563h-1ZM441,554h1V563h-1ZM442,540h1V563h-1ZM444,542h1V563h-1ZM445,542h1V563h-1ZM446,553h1V563h-1ZM448,552h1V563h-1ZM452,552h1V563h-1ZM453,554h1V563h-1ZM455,552h1V563h-1ZM456,539h1V563h-1ZM457,544h1V563h-1ZM459,537h1V563h-1ZM460,549h1V563h-1ZM462,550h1V563h-1ZM466,554h1V563h-1ZM467,531h1V563h-1ZM468,555h1V563h-1ZM470,556h1V563h-1ZM471,546h1V563h-1ZM473,541h1V563h-1ZM474,547h1V563h-1ZM475,544h1V563h-1ZM481,553h1V563h-1ZM482,556h1V563h-1ZM484,554h1V563h-1ZM485,556h1V563h-1ZM486,558h1V563h-1ZM488,559h1V563h-1ZM489,559h1V563h-1ZM495,556h1V563h-1ZM496,555h1V563h-1ZM497,557h1V563h-1ZM499,543h1V563h-1ZM500,556h1V563h-1ZM502,543h1V563h-1ZM503,552h1V563h-1ZM504,558h1V563h-1ZM508,560h1V563h-1ZM510,554h1V563h-1ZM511,558h1V563h-1ZM513,552h1V563h-1ZM514,556h1V563h-1ZM515,554h1V563h-1ZM517,555h1V563h-1ZM518,560h1V563h-1ZM521,542h1V563h-1ZM522,555h1V563h-1ZM524,558h1V563h-1ZM525,558h1V563h-1ZM526,558h1V563h-1ZM528,555h1V563h-1ZM529,554h1V563h-1ZM531,554h1V563h-1ZM532,560h1V563h-1ZM536,558h1V563h-1ZM537,560h1V563h-1ZM539,557h1V563h-1ZM540,555h1V563h-1ZM542,559h1V563h-1ZM543,557h1V563h-1ZM544,557h1V563h-1ZM546,554h1V563h-1ZM550,559h1V563h-1ZM551,559h1V563h-1ZM553,559h1V563h-1ZM554,553h1V563h-1ZM555,554h1V563h-1ZM557,558h1V563h-1ZM558,557h1V563h-1ZM560,557h1V563h-1ZM564,557h1V563h-1ZM565,558h1V563h-1ZM566,558h1V563h-1ZM568,560h1V563h-1ZM569,559h1V563h-1ZM571,552h1V563h-1ZM572,555h1V563h-1ZM573,556h1V563h-1ZM579,554h1V563h-1ZM580,553h1V563h-1ZM582,550h1V563h-1ZM583,554h1V563h-1ZM584,550h1V563h-1ZM586,536h1V563h-1ZM587,554h1V563h-1ZM593,552h1V563h-1ZM594,553h1V563h-1ZM595,553h1V563h-1ZM597,541h1V563h-1ZM598,555h1V563h-1ZM600,549h1V563h-1ZM601,551h1V563h-1ZM602,551h1V563h-1ZM605,546h1V563h-1ZM606,538h1V563h-1ZM607,532h1V563h-1ZM608,546h1V563h-1ZM609,532h1V563h-1ZM611,550h1V563h-1ZM612,548h1V563h-1ZM613,541h1V563h-1ZM615,551h1V563h-1ZM616,555h1V563h-1ZM619,556h1V563h-1ZM620,556h1V563h-1ZM622,558h1V563h-1ZM623,548h1V563h-1ZM624,552h1V563h-1ZM626,554h1V563h-1ZM627,544h1V563h-1ZM629,555h1V563h-1ZM630,548h1V563h-1ZM633,547h1V563h-1ZM634,536h1V563h-1ZM635,557h1V563h-1ZM637,555h1V563h-1ZM638,545h1V563h-1ZM640,542h1V563h-1ZM641,555h1V563h-1ZM642,544h1V563h-1ZM648,539h1V563h-1ZM649,552h1V563h-1ZM651,552h1V563h-1ZM652,551h1V563h-1ZM653,556h1V563h-1ZM654,534h1V563h-1ZM655,554h1V563h-1ZM656,535h1V563h-1ZM662,546h1V563h-1ZM663,537h1V563h-1ZM664,537h1V563h-1ZM666,550h1V563h-1ZM667,555h1V563h-1ZM669,552h1V563h-1ZM670,555h1V563h-1ZM671,542h1V563h-1ZM675,553h1V563h-1ZM677,557h1V563h-1ZM678,551h1V563h-1ZM680,553h1V563h-1ZM681,559h1V563h-1ZM682,556h1V563h-1ZM684,556h1V563h-1ZM685,555h1V563h-1ZM689,555h1V563h-1ZM691,556h1V563h-1ZM692,554h1V563h-1ZM693,557h1V563h-1ZM695,557h1V563h-1ZM696,549h1V563h-1ZM698,554h1V563h-1ZM699,554h1V563h-1ZM703,559h1V563h-1ZM704,556h1V563h-1ZM706,552h1V563h-1ZM707,558h1V563h-1ZM709,551h1V563h-1ZM710,556h1V563h-1ZM711,554h1V563h-1ZM713,556h1V563h-1ZM717,555h1V563h-1ZM718,551h1V563h-1ZM720,557h1V563h-1ZM721,549h1V563h-1ZM722,558h1V563h-1ZM724,558h1V563h-1ZM725,553h1V563h-1ZM727,558h1V563h-1ZM731,556h1V563h-1ZM732,552h1V563h-1ZM733,550h1V563h-1ZM735,558h1V563h-1ZM736,552h1V563h-1ZM738,546h1V563h-1ZM739,547h1V563h-1ZM740,554h1V563h-1ZM746,554h1V563h-1ZM747,553h1V563h-1ZM749,556h1V563h-1ZM750,532h1V563h-1ZM751,553h1V563h-1ZM753,552h1V563h-1ZM754,545h1V563h-1ZM760,553h1V563h-1ZM761,557h1V563h-1ZM762,545h1V563h-1ZM764,555h1V563h-1ZM765,553h1V563h-1ZM767,552h1V563h-1ZM768,553h1V563h-1ZM769,555h1V563h-1ZM772,518h1V563h-1ZM773,552h1V563h-1ZM775,541h1V563h-1ZM776,554h1V563h-1ZM778,552h1V563h-1ZM779,545h1V563h-1ZM780,548h1V563h-1ZM782,548h1V563h-1ZM783,548h1V563h-1ZM787,558h1V563h-1ZM789,556h1V563h-1ZM790,552h1V563h-1ZM791,551h1V563h-1ZM793,546h1V563h-1ZM794,551h1V563h-1ZM796,554h1V563h-1ZM797,553h1V563h-1ZM801,554h1V563h-1ZM802,552h1V563h-1ZM804,550h1V563h-1ZM805,554h1V563h-1ZM807,556h1V563h-1ZM808,556h1V563h-1ZM809,548h1V563h-1ZM811,547h1V563h-1ZM815,549h1V563h-1ZM816,550h1V563h-1ZM818,550h1V563h-1ZM819,554h1V563h-1ZM820,551h1V563h-1ZM822,557h1V563h-1ZM823,554h1V563h-1ZM825,556h1V563h-1ZM829,551h1V563h-1ZM830,556h1V563h-1ZM831,553h1V563h-1ZM833,549h1V563h-1ZM834,542h1V563h-1ZM836,553h1V563h-1ZM837,553h1V563h-1ZM838,541h1V563h-1ZM841,534h1V563h-1ZM842,553h1V563h-1ZM844,544h1V563h-1ZM845,551h1V563h-1ZM847,549h1V563h-1ZM848,555h1V563h-1ZM849,544h1V563h-1ZM851,532h1V563h-1ZM852,554h1V563h-1ZM856,548h1V563h-1ZM858,551h1V563h-1ZM859,546h1V563h-1ZM860,552h1V563h-1ZM862,554h1V563h-1ZM863,552h1V563h-1ZM865,543h1V563h-1ZM866,552h1V563h-1ZM867,549h1V563h-1ZM870,548h1V563h-1ZM871,555h1V563h-1ZM873,550h1V563h-1ZM874,553h1V563h-1ZM876,556h1V563h-1ZM877,539h1V563h-1ZM878,547h1V563h-1ZM880,550h1V563h-1ZM884,554h1V563h-1ZM885,556h1V563h-1ZM887,548h1V563h-1ZM888,551h1V563h-1ZM889,556h1V563h-1ZM891,551h1V563h-1ZM892,535h1V563h-1ZM894,550h1V563h-1ZM898,539h1V563h-1ZM899,552h1V563h-1ZM900,553h1V563h-1ZM902,553h1V563h-1ZM903,557h1V563h-1ZM905,555h1V563h-1ZM906,555h1V563h-1ZM907,554h1V563h-1ZM913,552h1V563h-1ZM914,550h1V563h-1ZM916,544h1V563h-1ZM917,557h1V563h-1ZM918,550h1V563h-1ZM920,553h1V563h-1ZM921,542h1V563h-1ZM927,545h1V563h-1ZM928,556h1V563h-1ZM929,548h1V563h-1ZM931,552h1V563h-1ZM932,543h1V563h-1ZM934,554h1V563h-1ZM935,549h1V563h-1ZM936,547h1V563h-1ZM939,523h1V563h-1ZM940,541h1V563h-1ZM941,525h1V563h-1ZM942,545h1V563h-1ZM943,552h1V563h-1ZM945,538h1V563h-1ZM946,532h1V563h-1ZM947,543h1V563h-1ZM949,550h1V563h-1ZM950,542h1V563h-1ZM952,535h1V563h-1ZM954,532h1V563h-1ZM956,548h1V563h-1ZM957,549h1V563h-1ZM958,542h1V563h-1ZM960,558h1V563h-1ZM961,556h1V563h-1ZM963,558h1V563h-1ZM964,556h1V563h-1ZM967,538h1V563h-1ZM968,555h1V563h-1ZM969,555h1V563h-1ZM971,554h1V563h-1ZM972,541h1V563h-1ZM974,551h1V563h-1ZM975,550h1V563h-1ZM976,538h1V563h-1ZM978,549h1V563h-1ZM982,554h1V563h-1ZM983,543h1V563h-1ZM985,551h1V563h-1ZM986,531h1V563h-1ZM987,552h1V563h-1ZM989,549h1V563h-1ZM990,554h1V563h-1ZM992,544h1V563h-1ZM996,551h1V563h-1ZM997,545h1V563h-1ZM998,547h1V563h-1ZM1000,523h1V563h-1ZM1001,536h1V563h-1ZM1003,529h1V563h-1ZM1004,544h1V563h-1ZM1005,550h1V563h-1ZM1007,504h1V563h-1ZM1009,516h1V563h-1ZM1010,474h1V563h-1ZM1011,551h1V563h-1ZM1012,543h1V563h-1ZM1014,531h1V563h-1ZM1015,548h1V563h-1ZM1016,550h1V563h-1ZM1018,550h1V563h-1ZM1019,551h1V563h-1ZM1023,513h1V563h-1ZM1025,532h1V563h-1ZM1026,546h1V563h-1ZM1027,530h1V563h-1ZM1029,544h1V563h-1ZM1030,547h1V563h-1ZM1032,553h1V563h-1ZM1033,542h1V563h-1ZM1034,544h1V563h-1ZM1038,551h1V563h-1ZM1040,550h1V563h-1ZM1041,543h1V563h-1ZM1043,526h1V563h-1ZM1044,537h1V563h-1ZM1045,541h1V563h-1ZM1047,545h1V563h-1ZM1048,539h1V563h-1ZM1052,542h1V563h-1ZM1054,520h1V563h-1ZM1055,549h1V563h-1ZM1056,544h1V563h-1ZM1057,521h1V563h-1ZM1058,527h1V563h-1ZM1059,543h1V563h-1ZM1061,524h1V563h-1ZM1062,542h1V563h-1ZM1066,524h1V563h-1ZM1067,545h1V563h-1ZM1069,551h1V563h-1ZM1070,525h1V563h-1ZM1072,525h1V563h-1ZM1073,536h1V563h-1ZM1074,537h1V563h-1ZM1076,533h1V563h-1ZM1080,538h1V563h-1ZM1081,533h1V563h-1ZM1083,545h1V563h-1ZM1084,434h1V563h-1ZM1085,534h1V563h-1ZM1087,546h1V563h-1ZM1088,524h1V563h-1ZM1090,546h1V563h-1ZM1091,518h1V563h-1ZM1094,548h1V563h-1ZM1095,540h1V563h-1ZM1096,549h1V563h-1ZM1098,551h1V563h-1ZM1099,547h1V563h-1ZM1101,529h1V563h-1ZM1102,545h1V563h-1ZM1103,543h1V563h-1ZM1106,531h1V563h-1ZM1107,544h1V563h-1ZM1109,542h1V563h-1ZM1110,536h1V563h-1ZM1112,530h1V563h-1ZM1113,553h1V563h-1ZM1114,530h1V563h-1ZM1115,531h1V563h-1ZM1116,544h1V563h-1ZM1117,546h1V563h-1ZM1120,532h1V563h-1ZM1121,528h1V563h-1Z"/>
</g>
<g stroke="#000" stroke-width="1" fill="none" shape-rendering="crispEdges">
<rect x="86.5" y="13.5" width="1085.0" height="403.0"/>
<rect x="86.5" y="429.5" width="1085.0" height="134.0"/>
<line x1="217.5" y1="416.5" x2="217.5" y2="421.9"/>
<line x1="217.5" y1="563.5" x2="217.5" y2="568.9"/>
<line x1="407.5" y1="416.5" x2="407.5" y2="421.9"/>
<line x1="407.5" y1="563.5" x2="407.5" y2="568.9"/>
<line x1="596.5" y1="416.5" x2="596.5" y2="421.9"/>
<line x1="596.5" y1="563.5" x2="596.5" y2="568.9"/>
<line x1="785.5" y1="416.5" x2="785.5" y2="421.9"/>
<line x1="785.5" y1="563.5" x2="785.5" y2="568.9"/>
<line x1="975.5" y1="416.5" x2="975.5" y2="421.9"/>
<line x1="975.5" y1="563.5" x2="975.5" y2="568.9"/>
<line x1="1164.5" y1="416.5" x2="1164.5" y2="421.9"/>
<line x1="1164.5" y1="563.5" x2="1164.5" y2="568.9"/>
<line x1="81.1" y1="14.5" x2="86.5" y2="14.5"/>
<line x1="81.1" y1="81.5" x2="86.5" y2="81.5"/>
<line x1="81.1" y1="149.5" x2="86.5" y2="149.5"/>
<line x1="81.1" y1="216.5" x2="86.5" y2="216.5"/>
<line x1="81.1" y1="283.5" x2="86.5" y2="283.5"/>
<line x1="81.1" y1="350.5" x2="86.5" y2="350.5"/>
<line x1="81.1" y1="563.5" x2="86.5" y2="563.5"/>
<line x1="81.1" y1="512.5" x2="86.5" y2="512.5"/>
<line x1="81.1" y1="461.5" x2="86.5" y2="461.5"/>
</g>
<text x="52.46" y="19.40" font-size="12.5" textLength="23.49" lengthAdjust="spacingAndGlyphs" fill="#000" >300</text>
<text x="52.28" y="86.40" font-size="12.5" textLength="23.77" lengthAdjust="spacingAndGlyphs" fill="#000" >250</text>
<text x="52.29" y="153.40" font-size="12.5" textLength="23.67" lengthAdjust="spacingAndGlyphs" fill="#000" >200</text>
<text x="51.10" y="221.40" font-size="12.5" textLength="24.17" lengthAdjust="spacingAndGlyphs" fill="#000" >150</text>
<text x="51.11" y="288.40" font-size="12.5" textLength="23.95" lengthAdjust="spacingAndGlyphs" fill="#000" >100</text>
<text x="60.35" y="355.40" font-size="12.5" textLength="15.18" lengthAdjust="spacingAndGlyphs" fill="#000" >50</text>
<text x="67.10" y="568.40" font-size="12.5" textLength="8.49" lengthAdjust="spacingAndGlyphs" fill="#000" >0</text>
<text x="26.68" y="517.40" font-size="12.5" textLength="48.89" lengthAdjust="spacingAndGlyphs" fill="#000" >100000</text>
<text x="27.07" y="466.40" font-size="12.5" textLength="48.50" lengthAdjust="spacingAndGlyphs" fill="#000" >200000</text>
<text x="191.08" y="581.70" font-size="12.5" textLength="52.72" lengthAdjust="spacingAndGlyphs" fill="#000" >2021-01</text>
<text x="381.08" y="581.70" font-size="12.5" textLength="52.72" lengthAdjust="spacingAndGlyphs" fill="#000" >2022-01</text>
<text x="570.08" y="581.70" font-size="12.5" textLength="52.72" lengthAdjust="spacingAndGlyphs" fill="#000" >2023-01</text>
<text x="759.08" y="581.70" font-size="12.5" textLength="52.72" lengthAdjust="spacingAndGlyphs" fill="#000" >2024-01</text>
<text x="949.08" y="581.70" font-size="12.5" textLength="52.72" lengthAdjust="spacingAndGlyphs" fill="#000" >2025-01</text>
<text x="1138.08" y="581.70" font-size="12.5" textLength="52.72" lengthAdjust="spacingAndGlyphs" fill="#000" >2026-01</text>
<g transform="translate(18.2,498.4) rotate(-90)">
<text x="-21.56" y="0.00" font-size="12.5" textLength="43.63" lengthAdjust="spacingAndGlyphs" fill="#000" >Volume</text>
</g>
<rect x="975.6" y="293.3" width="178.2" height="106.6" rx="3.5" ry="3.5" fill="#fff" fill-opacity="0.9" stroke="#ff0000" stroke-width="1.1"/>
<text x="995.80" y="309.70" font-size="15.0" textLength="153.88" lengthAdjust="spacingAndGlyphs" fill="#ff0000" >240.80 (-9.95 -3.97%)</text>
<text x="1039.35" y="325.40" font-size="15.0" textLength="110.07" lengthAdjust="spacingAndGlyphs" fill="#ff0000" >139.71~290.33</text>
<text x="983.84" y="341.30" font-size="15.0" textLength="165.60" lengthAdjust="spacingAndGlyphs" fill="#ff0000" >245.20/245.61/222.16</text>
<text x="1019.67" y="357.30" font-size="15.0" textLength="129.67" lengthAdjust="spacingAndGlyphs" fill="#ff0000" >2025-10-10 04:00</text>
<text x="978.81" y="376.20" font-size="15.0" textLength="45.29" lengthAdjust="spacingAndGlyphs" fill="#ff0000" >-1.25/</text>
<text x="1024.90" y="376.90" font-size="15.28" textLength="30.56" lengthAdjust="spacingAndGlyphs" fill="#ff0000">偏空</text>
<text x="1058.00" y="376.20" font-size="15.0" textLength="91.45" lengthAdjust="spacingAndGlyphs" fill="#ff0000" >/+0.49/-0.23</text>
<text x="1043.10" y="393.50" font-size="15.59" textLength="30.87" lengthAdjust="spacingAndGlyphs" fill="#ff0000">连跌</text>
<text x="1073.12" y="392.60" font-size="15.0" textLength="8.45" lengthAdjust="spacingAndGlyphs" fill="#ff0000" >3</text>
<text x="1082.00" y="393.50" font-size="15.28" fill="#ff0000">天</text>
<text x="1101.33" y="392.60" font-size="15.0" textLength="47.91" lengthAdjust="spacingAndGlyphs" fill="#ff0000" >-7.38%</text>
<rect x="93.5" y="20.5" width="108" height="120" rx="3" ry="3" fill="#fff" fill-opacity="0.8" stroke="#cccccc" stroke-opacity="0.8" stroke-width="1"/>
<g stroke-width="2.08" stroke-linecap="square">
<line x1="98" y1="30.8" x2="125.9" y2="30.8" stroke="#000"/>
<line x1="98" y1="51.2" x2="125.9" y2="51.2" stroke="#008000"/>
<line x1="98" y1="71.2" x2="125.9" y2="71.2" stroke="#ff0000"/>
<line x1="98" y1="90.2" x2="125.9" y2="90.2" stroke="#800080"/>
</g>
<path fill="#008000" d="M112.10,99.85 L112.90,99.85 L123.10,120.80 L101.90,120.80Z"/>
<path fill="#ff0000" d="M112.10,139.95 L112.90,139.95 L123.10,119.00 L101.90,119.00Z"/>
<text x="137.64" y="36.00" font-size="12.5" textLength="33.34" lengthAdjust="spacingAndGlyphs" fill="#000" >Close</text>
<text x="136.80" y="55.70" font-size="12.5" textLength="38.91" lengthAdjust="spacingAndGlyphs" fill="#000" >MA50[</text>
<text x="175.30" y="56.60" font-size="14.86" fill="#000">买</text>
<text x="189.89" y="55.70" font-size="12.5" textLength="4.05" lengthAdjust="spacingAndGlyphs" fill="#000" >]</text>
<text x="136.80" y="76.80" font-size="12.5" textLength="38.91" lengthAdjust="spacingAndGlyphs" fill="#000" >MA25[</text>
<text x="175.30" y="77.50" font-size="14.86" fill="#000">卖</text>
<text x="190.18" y="76.80" font-size="12.5" textLength="4.19" lengthAdjust="spacingAndGlyphs" fill="#000" >]</text>
<text x="136.79" y="94.90" font-size="12.5" textLength="42.73" lengthAdjust="spacingAndGlyphs" fill="#000" >MA200</text>
<text x="136.90" y="113.70" font-size="12.5" textLength="21.02" lengthAdjust="spacingAndGlyphs" fill="#000" >Buy</text>
<text x="138.00" y="132.90" font-size="12.5" textLength="22.09" lengthAdjust="spacingAndGlyphs" fill="#000" >Sell</text>
<text x="85.87" y="619.00" font-size="16.0" textLength="30.55" lengthAdjust="spacingAndGlyphs" fill="#000" >CRS</text>
<text x="121.00" y="619.60" font-size="16.7" textLength="66.80" lengthAdjust="spacingAndGlyphs" fill="#000">交易次数</text>
<text x="187.87" y="619.00" font-size="16.0" textLength="5.25" lengthAdjust="spacingAndGlyphs" fill="#000" >:</text>
<text x="198.54" y="619.00" font-size="16.0" textLength="9.72" lengthAdjust="spacingAndGlyphs" fill="#000" >8</text>
<text x="86.20" y="639.80" font-size="16.7" textLength="100.20" lengthAdjust="spacingAndGlyphs" fill="#000">策略总收益率</text>
<text x="185.47" y="639.20" font-size="16.0" textLength="5.25" lengthAdjust="spacingAndGlyphs" fill="#000" >:</text>
<text x="196.01" y="639.20" font-size="16.0" textLength="66.59" lengthAdjust="spacingAndGlyphs" fill="#000" >923.21%</text>
<text x="86.20" y="659.80" font-size="16.7" textLength="100.20" lengthAdjust="spacingAndGlyphs" fill="#000">长期持有收益</text>
<text x="185.47" y="659.20" font-size="16.0" textLength="5.25" lengthAdjust="spacingAndGlyphs" fill="#000" >:</text>
<text x="196.32" y="659.20" font-size="16.0" textLength="75.78" lengthAdjust="spacingAndGlyphs" fill="#000" >1267.40%</text>
<text x="86.20" y="679.30" font-size="16.7" textLength="66.80" lengthAdjust="spacingAndGlyphs" fill="#000">交易记录</text>
<text x="151.07" y="678.70" font-size="16.0" textLength="5.25" lengthAdjust="spacingAndGlyphs" fill="#000" >:</text>
<text x="95.44" y="694.50" font-size="16.0" textLength="65.77" lengthAdjust="spacingAndGlyphs" fill="#000" >Buy Date</text>
<text x="171.21" y="694.50" font-size="16.0" textLength="67.49" lengthAdjust="spacingAndGlyphs" fill="#000" >Buy Price</text>
<text x="248.76" y="694.50" font-size="16.0" textLength="66.22" lengthAdjust="spacingAndGlyphs" fill="#000" >Sell Date</text>
<text x="325.02" y="694.50" font-size="16.0" textLength="67.69" lengthAdjust="spacingAndGlyphs" fill="#000" >Sell Price</text>
<text x="401.93" y="694.50" font-size="16.0" textLength="95.65" lengthAdjust="spacingAndGlyphs" fill="#000" >Holding Days</text>
<text x="506.93" y="694.50" font-size="16.0" textLength="56.14" lengthAdjust="spacingAndGlyphs" fill="#000" >Profit %</text>
<text x="85.72" y="712.60" font-size="16.0" textLength="89.51" lengthAdjust="spacingAndGlyphs" fill="#000" >2020-10-05</text>
<text x="204.92" y="712.60" font-size="16.0" textLength="45.47" lengthAdjust="spacingAndGlyphs" fill="#000" >17.61</text>
<text x="255.36" y="712.60" font-size="16.0" textLength="90.48" lengthAdjust="spacingAndGlyphs" fill="#000" >2020-12-29</text>
<text x="379.83" y="712.60" font-size="16.0" textLength="45.55" lengthAdjust="spacingAndGlyphs" fill="#000" >25.81</text>
<text x="484.70" y="712.60" font-size="16.0" textLength="20.58" lengthAdjust="spacingAndGlyphs" fill="#000" >85</text>
<text x="530.34" y="712.60" font-size="16.0" textLength="44.95" lengthAdjust="spacingAndGlyphs" fill="#000" >46.56</text>
<text x="85.72" y="730.00" font-size="16.0" textLength="89.55" lengthAdjust="spacingAndGlyphs" fill="#000" >2021-03-23</text>
<text x="205.62" y="730.00" font-size="16.0" textLength="44.78" lengthAdjust="spacingAndGlyphs" fill="#000" >35.72</text>
<text x="255.36" y="730.00" font-size="16.0" textLength="90.42" lengthAdjust="spacingAndGlyphs" fill="#000" >2023-02-23</text>
<text x="380.34" y="730.00" font-size="16.0" textLength="45.07" lengthAdjust="spacingAndGlyphs" fill="#000" >46.62</text>
<text x="479.83" y="730.00" font-size="16.0" textLength="30.08" lengthAdjust="spacingAndGlyphs" fill="#000" >702</text>
<text x="534.81" y="730.00" font-size="16.0" textLength="45.35" lengthAdjust="spacingAndGlyphs" fill="#000" >30.52</text>
<text x="85.72" y="747.40" font-size="16.0" textLength="89.46" lengthAdjust="spacingAndGlyphs" fill="#000" >2023-03-10</text>
<text x="205.90" y="747.40" font-size="16.0" textLength="44.12" lengthAdjust="spacingAndGlyphs" fill="#000" >44.14</text>
<text x="255.36" y="747.40" font-size="16.0" textLength="90.48" lengthAdjust="spacingAndGlyphs" fill="#000" >2023-08-09</text>
<text x="380.03" y="747.40" font-size="16.0" textLength="45.27" lengthAdjust="spacingAndGlyphs" fill="#000" >56.06</text>
<text x="479.36" y="747.40" font-size="16.0" textLength="30.54" lengthAdjust="spacingAndGlyphs" fill="#000" >151</text>
<text x="534.59" y="747.40" font-size="16.0" textLength="45.37" lengthAdjust="spacingAndGlyphs" fill="#000" >27.00</text>
<text x="85.72" y="764.80" font-size="16.0" textLength="89.54" lengthAdjust="spacingAndGlyphs" fill="#000" >2023-10-18</text>
<text x="205.39" y="764.80" font-size="16.0" textLength="45.02" lengthAdjust="spacingAndGlyphs" fill="#000" >62.57</text>
<text x="255.36" y="764.80" font-size="16.0" textLength="90.15" lengthAdjust="spacingAndGlyphs" fill="#000" >2024-06-04</text>
<text x="374.61" y="764.80" font-size="16.0" textLength="55.81" lengthAdjust="spacingAndGlyphs" fill="#000" >103.82</text>
<text x="484.58" y="764.80" font-size="16.0" textLength="30.38" lengthAdjust="spacingAndGlyphs" fill="#000" >230</text>
<text x="539.06" y="764.80" font-size="16.0" textLength="46.25" lengthAdjust="spacingAndGlyphs" fill="#000" >65.93</text>
<text x="85.72" y="782.20" font-size="16.0" textLength="89.29" lengthAdjust="spacingAndGlyphs" fill="#000" >2024-06-24</text>
<text x="205.47" y="782.20" font-size="16.0" textLength="44.56" lengthAdjust="spacingAndGlyphs" fill="#000" >97.94</text>
<text x="255.36" y="782.20" font-size="16.0" textLength="90.42" lengthAdjust="spacingAndGlyphs" fill="#000" >2024-09-03</text>
<text x="374.61" y="782.20" font-size="16.0" textLength="55.68" lengthAdjust="spacingAndGlyphs" fill="#000" >133.48</text>
<text x="489.56" y="782.20" font-size="16.0" textLength="20.33" lengthAdjust="spacingAndGlyphs" fill="#000" >71</text>
<text x="534.81" y="782.20" font-size="16.0" textLength="45.30" lengthAdjust="spacingAndGlyphs" fill="#000" >36.29</text>
<text x="85.72" y="799.60" font-size="16.0" textLength="89.64" lengthAdjust="spacingAndGlyphs" fill="#000" >2024-10-31</text>
<text x="200.37" y="799.60" font-size="16.0" textLength="55.42" lengthAdjust="spacingAndGlyphs" fill="#000" >149.08</text>
<text x="260.37" y="799.60" font-size="16.0" textLength="89.82" lengthAdjust="spacingAndGlyphs" fill="#000" >2024-12-10</text>
<text x="379.87" y="799.60" font-size="16.0" textLength="55.39" lengthAdjust="spacingAndGlyphs" fill="#000" >181.05</text>
<text x="495.34" y="799.60" font-size="16.0" textLength="19.86" lengthAdjust="spacingAndGlyphs" fill="#000" >40</text>
<text x="540.35" y="799.60" font-size="16.0" textLength="44.67" lengthAdjust="spacingAndGlyphs" fill="#000" >21.44</text>
<text x="85.72" y="817.00" font-size="16.0" textLength="89.66" lengthAdjust="spacingAndGlyphs" fill="#000" >2024-12-17</text>
<text x="200.37" y="817.00" font-size="16.0" textLength="55.49" lengthAdjust="spacingAndGlyphs" fill="#000" >171.99</text>
<text x="260.37" y="817.00" font-size="16.0" textLength="89.64" lengthAdjust="spacingAndGlyphs" fill="#000" >2025-07-24</text>
<text x="380.34" y="817.00" font-size="16.0" textLength="55.06" lengthAdjust="spacingAndGlyphs" fill="#000" >272.97</text>
<text x="490.32" y="817.00" font-size="16.0" textLength="30.99" lengthAdjust="spacingAndGlyphs" fill="#000" >218</text>
<text x="545.52" y="817.00" font-size="16.0" textLength="45.36" lengthAdjust="spacingAndGlyphs" fill="#000" >58.71</text>
<text x="85.72" y="834.40" font-size="16.0" textLength="89.64" lengthAdjust="spacingAndGlyphs" fill="#000" >2025-07-31</text>
<text x="200.85" y="834.40" font-size="16.0" textLength="54.85" lengthAdjust="spacingAndGlyphs" fill="#000" >249.20</text>
<text x="260.37" y="834.40" font-size="16.0" textLength="89.82" lengthAdjust="spacingAndGlyphs" fill="#000" >2025-10-10</text>
<text x="380.35" y="834.40" font-size="16.0" textLength="54.85" lengthAdjust="spacingAndGlyphs" fill="#000" >240.80</text>
<text x="496.11" y="834.40" font-size="16.0" textLength="19.23" lengthAdjust="spacingAndGlyphs" fill="#000" >71</text>
<text x="539.21" y="834.40" font-size="16.0" textLength="40.43" lengthAdjust="spacingAndGlyphs" fill="#000" >-3.37</text>
</svg></body></html>
